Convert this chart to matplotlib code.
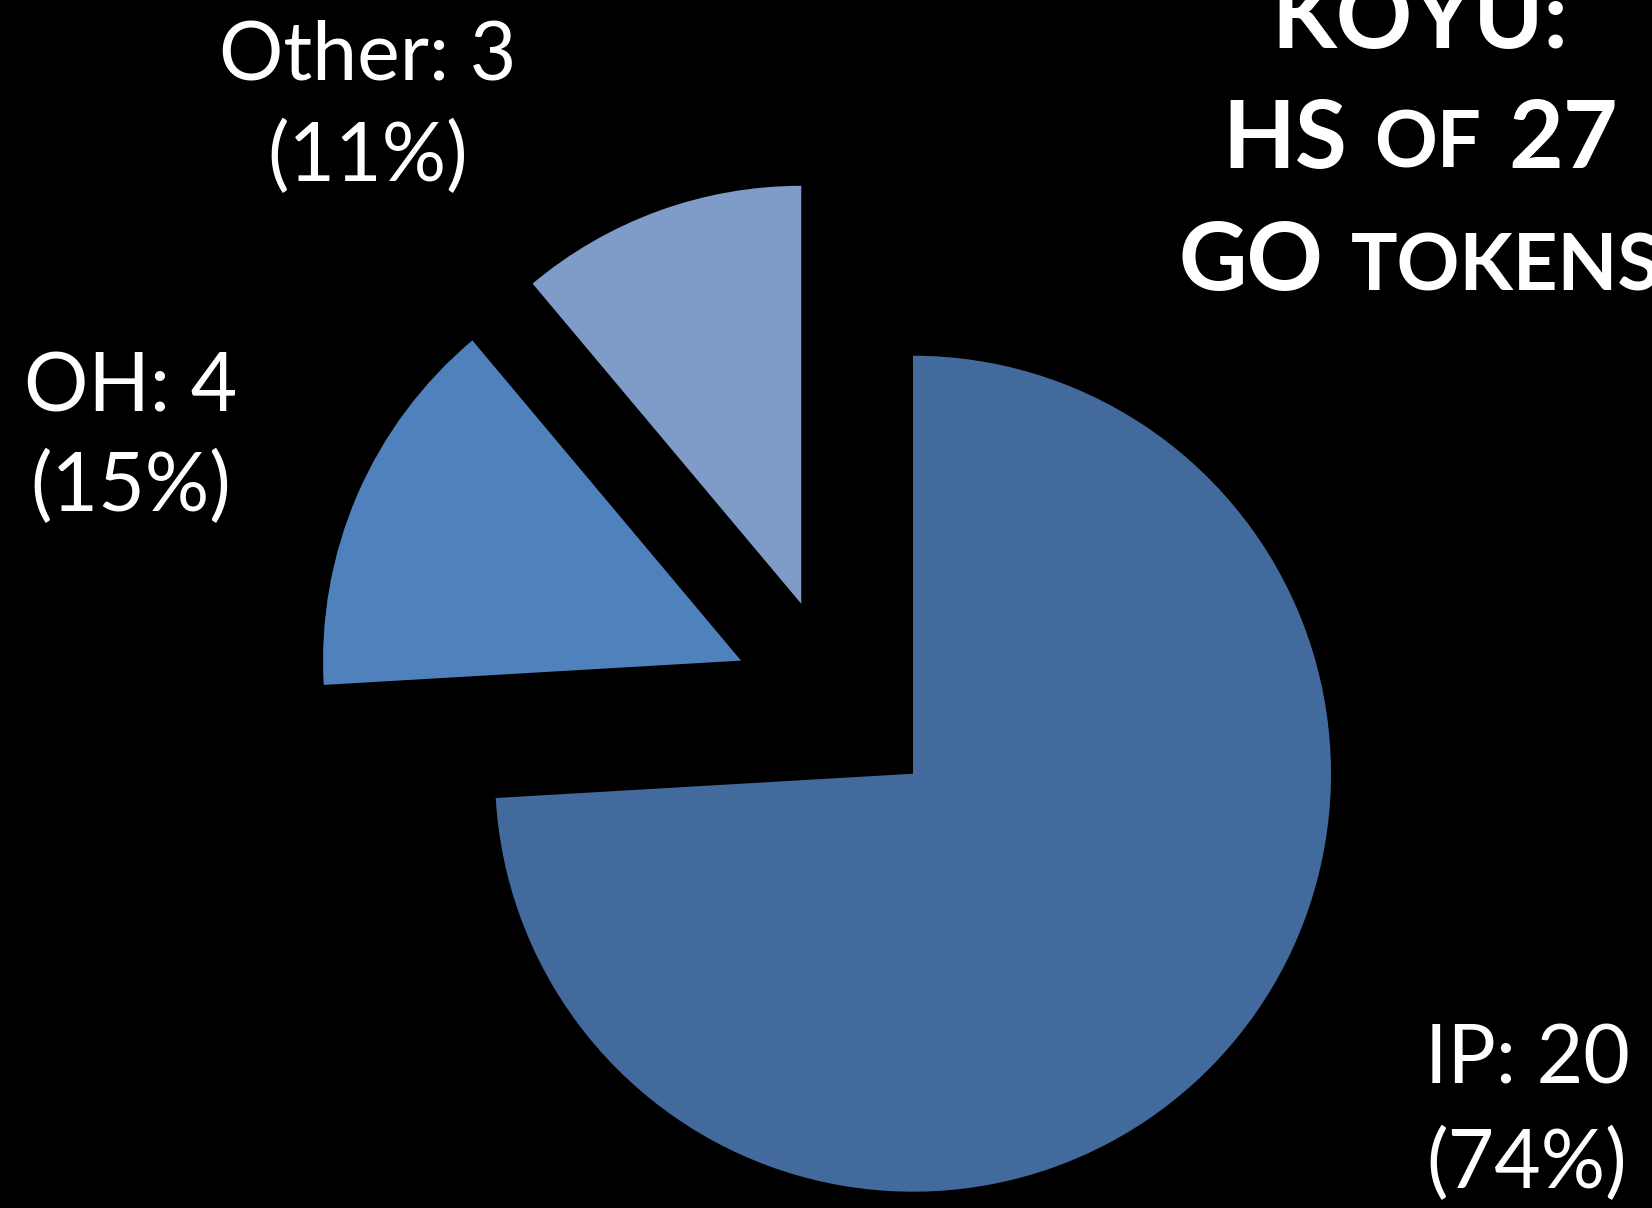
import matplotlib
matplotlib.use("Agg")
import matplotlib.pyplot as plt

# ---- data ----
categories = ["IP", "OH", "Other"]
counts = [20, 4, 3]
colors = ["#426A9C", "#4F81BD", "#7F9BC7"]
title_lines = [
    [("KOYU:", "big")],
    [("HS", "big"), ("OF", "small"), ("27", "big")],
    [("GO", "big"), ("TOKENS", "small")],
]

W, H = 1652, 1208
FONT = "Lato"
fig = plt.figure(figsize=(W / 100, H / 100), dpi=100, facecolor="black")
ax = fig.add_axes([0, 0, 1, 1])
ax.set_facecolor("black")

# pie geometry in pixels
cx, cy, R = 837, 702, 418
total = sum(counts)
ax.pie(counts, colors=colors, startangle=90, counterclock=False,
       explode=[0.25] * len(counts), radius=1, center=(0, 0),
       wedgeprops=dict(linewidth=0))
ax.set_xlim((0 - cx) / R, (W - cx) / R)
ax.set_ylim((cy - H) / R, cy / R)
ax.set_aspect("auto")
ax.axis("off")

def fx(x):
    return x / W

def fy(y):
    return 1 - y / H

# slice labels: (center x, baseline y of line1, baseline y of line2)
label_pos = {"Other": (368, 79, 181), "OH": (131, 411, 511), "IP": (1527, 1083, 1188)}
for cat, n in zip(categories, counts):
    x, b1, b2 = label_pos[cat]
    pct = round(100 * n / total)
    fig.text(fx(x), fy(b1), f"{cat}: {n}", color="white", fontsize=58,
             family=FONT, ha="center", va="baseline")
    fig.text(fx(x), fy(b2), f"({pct}%)", color="white", fontsize=58,
             family=FONT, ha="center", va="baseline")

# title with manual small caps
renderer = fig.canvas.get_renderer()
sizes = {"big": 68, "small": 56}
baselines = [48, 168, 290]
tcx = 1420
gap = 27
for segs, base in zip(title_lines, baselines):
    widths = []
    for s, kind in segs:
        t = fig.text(0, 0, s, fontsize=sizes[kind], family=FONT, weight="bold")
        widths.append(t.get_window_extent(renderer).width)
        t.remove()
    total_w = sum(widths) + gap * (len(segs) - 1)
    x = tcx - total_w / 2
    for (s, kind), w in zip(segs, widths):
        fig.text(fx(x), fy(base), s, color="white", fontsize=sizes[kind],
                 family=FONT, weight="bold", ha="left", va="baseline")
        x += w + gap

fig.savefig("out.png", dpi=100, facecolor="black")
